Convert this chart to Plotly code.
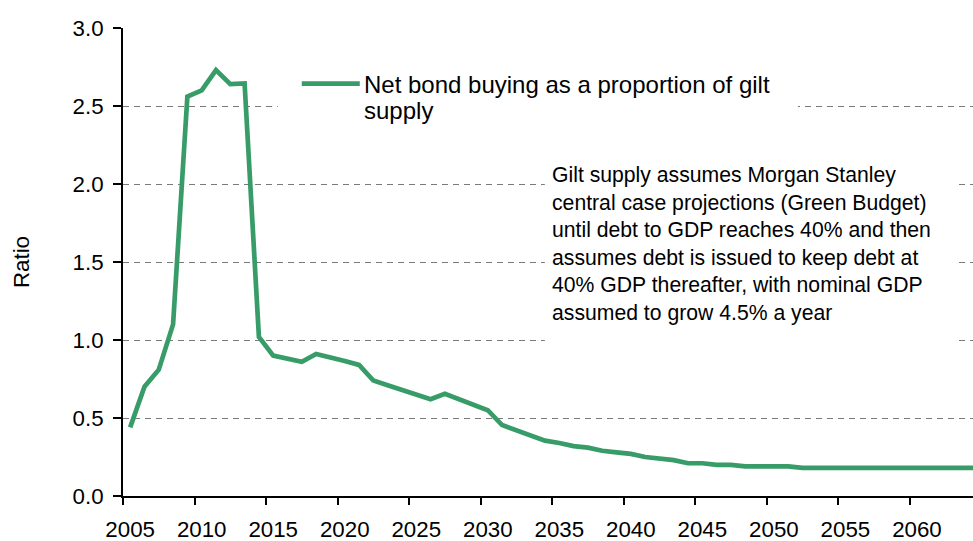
import plotly.graph_objects as go

# ---------------- data ----------------
years = list(range(2005, 2065))
ratio = [
    0.44, 0.70, 0.81, 1.10, 2.56, 2.60, 2.73, 2.64, 2.645, 1.02,   # 2005-2014
    0.90, 0.88, 0.86, 0.91, 0.89, 0.865, 0.84, 0.74, 0.71, 0.68,   # 2015-2024
    0.65, 0.62, 0.655, 0.62, 0.585, 0.55, 0.455, 0.42, 0.39, 0.355,  # 2025-2034
    0.34, 0.32, 0.31, 0.29, 0.28, 0.27, 0.25, 0.24, 0.23, 0.21,    # 2035-2044
    0.21, 0.20, 0.20, 0.19, 0.19, 0.19, 0.19, 0.18, 0.18, 0.18,    # 2045-2054
    0.18, 0.18, 0.18, 0.18, 0.18, 0.18, 0.18, 0.18, 0.18, 0.18,    # 2055-2064
]
tick_years = [2005, 2010, 2015, 2020, 2025, 2030, 2035, 2040, 2045, 2050, 2055, 2060]
tick_labels = ["2005", "2010", "2015", "2020", "2025", "2030",
               "2035", "2040", "2045", "2050", "2055", "2060"]
series_name = "Net bond buying as a proportion of gilt supply"
legend_lines = ["Net bond buying as a proportion of gilt", "supply"]
note_lines = [
    "Gilt supply assumes Morgan Stanley",
    "central case projections (Green Budget)",
    "until debt to GDP reaches 40% and then",
    "assumes debt is issued to keep debt at",
    "40% GDP thereafter, with nominal GDP",
    "assumed to grow 4.5% a year",
]

# ---------------- styling / layout ----------------
W, H = 973, 541
L, T, B = 123.3, 27.7, 495.7
PW, PH = W - L, B - T
GREEN = "#389c68"
FONT = "Liberation Sans, Arial, sans-serif"


def px(xp):
    return (xp - L) / PW


def py(yp):
    return (B - yp) / PH


# points sit in the middle of each year's category
xs = [y + 0.5 for y in years]

fig = go.Figure()
fig.add_trace(go.Scatter(
    x=xs, y=ratio, mode="lines", name=series_name,
    line=dict(color=GREEN, width=4.7), showlegend=False,
))

shapes = [
    dict(type="rect", xref="paper", yref="paper",
         x0=px(278), x1=px(798), y0=py(132), y1=py(36),
         fillcolor="white", line=dict(width=0), layer="above"),
    dict(type="rect", xref="paper", yref="paper",
         x0=px(545), x1=px(958), y0=py(350), y1=py(150),
         fillcolor="white", line=dict(width=0), layer="above"),
    dict(type="line", xref="paper", yref="paper",
         x0=px(302), x1=px(360), y0=py(83.3), y1=py(83.3),
         line=dict(color=GREEN, width=4.7), layer="above"),
]

annotations = [
    dict(text=legend_lines[0], xref="paper", yref="paper",
         x=px(362.3), y=py(84.2), xanchor="left", yanchor="middle",
         showarrow=False, font=dict(size=24, color="black", family=FONT)),
    dict(text=legend_lines[1], xref="paper", yref="paper",
         x=px(362.3), y=py(110.2), xanchor="left", yanchor="middle",
         showarrow=False, font=dict(size=24, color="black", family=FONT)),
    dict(text="<br>".join(note_lines), xref="paper", yref="paper",
         x=px(549.7), y=py(160.5), xanchor="left", yanchor="top", align="left",
         showarrow=False, font=dict(size=21.2, color="black", family=FONT)),
]

fig.update_layout(
    width=W, height=H,
    margin=dict(l=L, r=0, t=T, b=H - B, pad=0, autoexpand=False),
    paper_bgcolor="white", plot_bgcolor="white",
    font=dict(family=FONT, color="black", size=22),
    showlegend=False,
    shapes=shapes,
    annotations=annotations,
    xaxis=dict(
        range=[2005, 2005 + PW / 14.3],
        tickmode="array",
        tickvals=[y + 0.5 for y in tick_years],
        ticktext=tick_labels,
        ticks="",
        tickfont=dict(size=22.3),
        ticklabelstandoff=12,
        automargin=False,
        showgrid=False, zeroline=False,
        showline=True, linecolor="black", linewidth=2,
        minor=dict(ticks="outside", ticklen=7, tickwidth=2, tickcolor="black",
                   tickmode="linear", tick0=2005, dtick=5, showgrid=False),
    ),
    yaxis=dict(
        range=[0, 3],
        tickmode="linear", tick0=0, dtick=0.5, tickformat=".1f",
        ticks="outside", ticklen=8, tickwidth=1.5, tickcolor="black",
        tickfont=dict(size=22.3),
        ticklabelstandoff=5,
        automargin=False,
        showgrid=True, gridcolor="#7a7a7a", gridwidth=1, griddash="6px,5px",
        zeroline=False,
        showline=True, linecolor="black", linewidth=2,
        title=dict(text="Ratio", font=dict(size=22.3), standoff=37),
    ),
)

fig.write_html("out.html")
